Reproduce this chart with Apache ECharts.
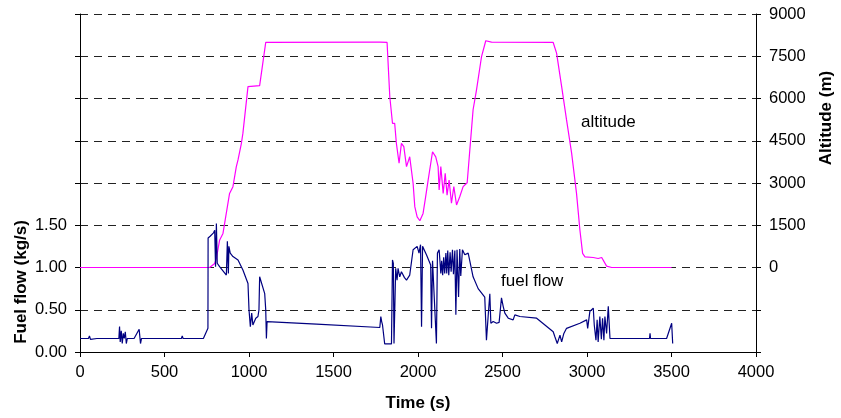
<!DOCTYPE html>
<html>
<head>
<meta charset="utf-8">
<script src="https://cdn.jsdelivr.net/npm/echarts@6/dist/echarts.min.js"></script>
<style>html,body{margin:0;padding:0;background:#fff}#c{width:841px;height:418px}</style>
</head>
<body>
<div id="c"></div>
<script>
// Time (s) samples and fuel flow (kg/s)
const fuelTime = [0,50,56,62,100,230,234,238,244,250,256,262,268,274,280,320,350,355,358,364,600,605,610,730,757,758,770,790,797,802,807,812,826,866,872,878,881,889,905,935,964,994,1000,1008,1016,1023,1040,1053,1059,1063,1093,1099,1103,1107,1112,1400,1774,1780,1785,1790,1797,1803,1843,1849,1854,1858,1864,1868,1876,1882,1892,1902,1920,1932,1951,1971,1995,2006,2015,2021,2027,2050,2075,2080,2086,2095,2109,2115,2125,2135,2140,2146,2152,2158,2165,2170,2176,2182,2190,2196,2204,2210,2218,2224,2231,2240,2247,2253,2263,2277,2297,2326,2356,2395,2405,2415,2425,2431,2445,2465,2480,2494,2504,2514,2534,2563,2573,2603,2702,2800,2810,2824,2840,2850,2863,2879,2958,2998,3004,3017,3037,3043,3053,3060,3066,3076,3085,3092,3100,3106,3116,3126,3136,3333,3370,3373,3376,3471,3501,3507];
const fuelFlow = [0.16,0.16,0.19,0.15,0.16,0.16,0.30,0.12,0.25,0.10,0.22,0.16,0.24,0.10,0.16,0.16,0.27,0.25,0.10,0.16,0.16,0.19,0.16,0.16,0.28,1.35,1.37,1.41,1.44,1.01,1.52,1.05,1.01,0.91,1.31,0.93,1.25,1.17,1.13,1.09,0.97,0.81,0.50,0.30,0.46,0.32,0.40,0.42,0.50,0.89,0.69,0.50,0.16,0.36,0.35,0.33,0.29,0.42,0.36,0.32,0.32,0.095,0.095,1.09,1.05,0.10,0.10,0.99,0.85,0.99,0.89,0.95,0.88,0.85,0.91,1.21,1.25,1.17,1.27,0.30,1.25,1.15,1.03,0.28,1.08,1.06,0.10,1.17,1.21,0.93,1.08,0.91,1.12,0.93,1.17,0.93,1.20,0.91,1.18,0.95,1.21,0.92,1.20,0.44,1.21,0.65,1.22,0.90,1.21,1.15,1.17,0.89,0.75,0.65,0.14,0.42,0.69,0.34,0.36,0.34,0.35,0.64,0.54,0.46,0.40,0.38,0.44,0.42,0.40,0.24,0.18,0.10,0.20,0.12,0.22,0.28,0.34,0.38,0.28,0.48,0.52,0.32,0.14,0.38,0.12,0.42,0.15,0.40,0.14,0.42,0.22,0.54,0.16,0.16,0.16,0.22,0.16,0.16,0.34,0.10];
// Time (s) samples and altitude (m)
const altTime = [0,767,797,807,826,846,885,905,925,935,955,964,994,1000,1063,1099,1103,1760,1768,1775,1817,1833,1849,1862,1872,1888,1902,1916,1932,1951,1971,1981,1995,2011,2020,2030,2045,2060,2086,2105,2119,2125,2135,2149,2161,2172,2184,2198,2212,2228,2247,2267,2291,2307,2326,2346,2376,2401,2435,2800,2820,2850,2879,2909,2938,2958,2974,2988,3037,3066,3087,3116,3146,3500];
const altitude = [0,0,140,320,970,1210,2630,2870,3580,3820,4410,4770,6420,6450,6460,7990,8000,8000,7940,8000,7990,6070,5120,5120,4410,3700,4410,4290,3580,3930,2990,2160,1800,1660,1700,1920,2500,3100,4110,3930,3580,2750,3580,2630,3340,2570,3100,2280,2870,2220,2510,2870,3010,4200,5600,6300,7490,8050,8000,7990,7610,6420,5240,4060,2630,1330,500,380,355,320,355,50,0,0];
const xTicks = {min: 0, max: 4000, step: 500};
const fuelTicks = {min: 0, max: 4, step: 0.5, labelMax: 1.5};
const altTicks = {min: -3000, max: 9000, step: 1500, labelMin: 0};

const FONT = 'Liberation Sans, Arial, sans-serif';
const chart = echarts.init(document.getElementById('c'), null, {renderer: 'canvas'});
const axisLine = {show: true, lineStyle: {color: '#000', width: 1}};
const tick = {show: true, length: 5, lineStyle: {color: '#000'}};
chart.setOption({
  animation: false,
  backgroundColor: '#fff',
  grid: {left: 80, right: 85, top: 14, bottom: 66, containLabel: false},
  xAxis: {
    type: 'value', min: xTicks.min, max: xTicks.max, interval: xTicks.step,
    axisLine: axisLine, axisTick: tick, splitLine: {show: false},
    axisLabel: {color: '#000', fontSize: 16.5, fontFamily: FONT, margin: 12,
      formatter: v => String(v)}
  },
  yAxis: [
    {
      type: 'value', position: 'left', min: fuelTicks.min, max: fuelTicks.max, interval: fuelTicks.step,
      axisLine: axisLine, axisTick: tick,
      splitLine: {show: true, lineStyle: {color: '#222', width: 1, type: [8, 6]}},
      axisLabel: {color: '#000', fontSize: 16.5, fontFamily: FONT, margin: 13,
        formatter: v => v <= fuelTicks.labelMax + 1e-9 ? v.toFixed(2) : ''}
    },
    {
      type: 'value', position: 'right', min: altTicks.min, max: altTicks.max, interval: altTicks.step,
      axisLine: axisLine, axisTick: tick, splitLine: {show: false},
      axisLabel: {color: '#000', fontSize: 16.5, fontFamily: FONT, margin: 13,
        formatter: v => v >= altTicks.labelMin ? String(v) : ''}
    }
  ],
  series: [
    {
      type: 'line', yAxisIndex: 1, showSymbol: false, symbol: 'none',
      lineStyle: {color: '#FF00FF', width: 1.2},
      data: altTime.map((t, i) => [t, altitude[i]])
    },
    {
      type: 'line', yAxisIndex: 0, showSymbol: false, symbol: 'none',
      lineStyle: {color: '#000080', width: 1.2},
      data: fuelTime.map((t, i) => [t, fuelFlow[i]])
    }
  ],
  graphic: [
    {type: 'text', x: 21, y: 282, rotation: Math.PI / 2,
      style: {text: 'Fuel flow (kg/s)', font: 'bold 17px ' + FONT, fill: '#000', textAlign: 'center', textVerticalAlign: 'middle'}},
    {type: 'text', x: 826, y: 118, rotation: Math.PI / 2,
      style: {text: 'Altitude (m)', font: 'bold 17px ' + FONT, fill: '#000', textAlign: 'center', textVerticalAlign: 'middle'}},
    {type: 'text', x: 418, y: 403,
      style: {text: 'Time (s)', font: 'bold 17px ' + FONT, fill: '#000', textAlign: 'center', textVerticalAlign: 'middle'}},
    {type: 'text', x: 581, y: 122,
      style: {text: 'altitude', font: '17px ' + FONT, fill: '#000', textAlign: 'left', textVerticalAlign: 'middle'}},
    {type: 'text', x: 501, y: 281,
      style: {text: 'fuel flow', font: '17px ' + FONT, fill: '#000', textAlign: 'left', textVerticalAlign: 'middle'}}
  ]
});
</script>
</body>
</html>
